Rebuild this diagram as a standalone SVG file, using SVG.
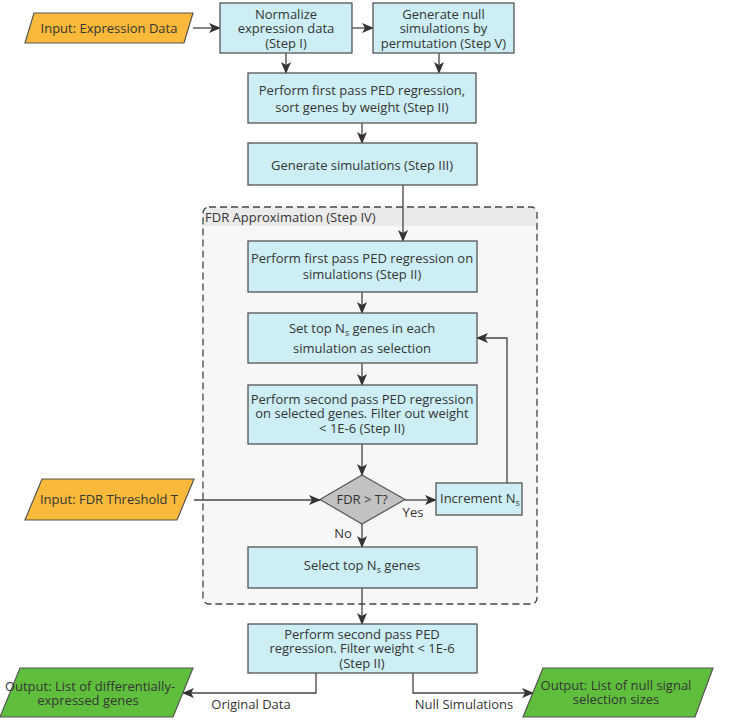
<svg xmlns="http://www.w3.org/2000/svg" width="744" height="724" viewBox="0 0 744 724">
<defs>
<marker id="arr" viewBox="0 0 12 10" refX="11" refY="5" markerWidth="12" markerHeight="10" markerUnits="userSpaceOnUse" orient="auto">
<path d="M0,0 L12,5 L0,10 L3,5 z" fill="#333"/>
</marker>
<style>
text{font-family:"Open Sans","DejaVu Sans",sans-serif;font-size:13px;fill:#353535;text-anchor:middle}
.box{fill:#cdeef4;stroke:#555;stroke-width:1.3}
.in{fill:#f9b93b;stroke:#555;stroke-width:1.2}
.out{fill:#5fbf3d;stroke:#555;stroke-width:1.2}
.dia{fill:#c2c2c2;stroke:#555;stroke-width:1.2}
.c{fill:none;stroke:#444;stroke-width:1.3;marker-end:url(#arr)}
.l{text-anchor:start}
.sub{font-size:9px}
</style>
</defs>
<rect width="744" height="724" fill="#fff"/>
<g id="group-fdr">
<rect x="203" y="207" width="334" height="397" rx="6" fill="#f7f7f7"/>
<path d="M203,226 V213 a6,6 0 0 1 6,-6 H531 a6,6 0 0 1 6,6 V226 Z" fill="#ebebeb"/>
<rect x="203" y="207" width="334" height="397" rx="6" fill="none" stroke="#444" stroke-width="1.3" stroke-dasharray="7,4"/>
<text class="l" x="205" y="222">FDR Approximation (Step IV)</text>
</g>
<g id="connectors">
<path class="c" d="M193,28 H220"/>
<path class="c" d="M352,28 H373"/>
<path class="c" d="M286,53 V73"/>
<path class="c" d="M439,53 V73"/>
<path class="c" d="M362,123 V143"/>
<path class="c" d="M403,185 V241"/>
<path class="c" d="M362,292 V313"/>
<path class="c" d="M362,363 V385"/>
<path class="c" d="M362,444 V475"/>
<path class="c" d="M194,500 H320"/>
<path class="c" d="M405,500 H436"/>
<path class="c" d="M507,483 V338 H477"/>
<path class="c" d="M362,524 V547"/>
<path class="c" d="M362,588 V624"/>
<path class="c" d="M316,673 V693 H183"/>
<path class="c" d="M413,673 V693 H533"/>
<text x="413" y="517">Yes</text>
<text x="343" y="538">No</text>
<text x="251" y="709">Original Data</text>
<text x="464" y="709">Null Simulations</text>
</g>
<g id="input-expression">
<polygon class="in" points="34,13 193,13 184,43 25,43"/>
<text x="109" y="32.5">Input: Expression Data</text>
</g>
<g id="normalize">
<rect class="box" x="220" y="3" width="132" height="50"/>
<text x="286" y="18.5">Normalize</text>
<text x="286" y="33">expression data</text>
<text x="286" y="47.5">(Step I)</text>
</g>
<g id="null-sim">
<rect class="box" x="373" y="3" width="141" height="50"/>
<text x="443.5" y="18.5">Generate null</text>
<text x="443.5" y="33">simulations by</text>
<text x="443.5" y="47.5">permutation (Step V)</text>
</g>
<g id="first-pass">
<rect class="box" x="248" y="73" width="228" height="50"/>
<text x="362" y="94.5">Perform first pass PED regression,</text>
<text x="362" y="111.5">sort genes by weight (Step II)</text>
</g>
<g id="gen-sim">
<rect class="box" x="248" y="143" width="229" height="42"/>
<text x="362" y="169.5">Generate simulations (Step III)</text>
</g>
<g id="first-pass-sim">
<rect class="box" x="248" y="241" width="229" height="51"/>
<text x="362" y="262.5">Perform first pass PED regression on</text>
<text x="362" y="278.5">simulations (Step II)</text>
</g>
<g id="set-top">
<rect class="box" x="248" y="313" width="229" height="50"/>
<text x="362" y="332.5">Set top N<tspan class="sub" dy="3">s</tspan><tspan dy="-3"> genes in each</tspan></text>
<text x="362" y="352.5">simulation as selection</text>
</g>
<g id="second-pass-sel">
<rect class="box" x="248" y="385" width="229" height="59"/>
<text x="362" y="403.5">Perform second pass PED regression</text>
<text x="362" y="418">on selected genes. Filter out weight</text>
<text x="362" y="432.5">&lt; 1E-6 (Step II)</text>
</g>
<g id="decision">
<polygon class="dia" points="362,475 405,499.5 362,524 320,499.5"/>
<text x="362" y="503.5">FDR &gt; T?</text>
</g>
<g id="input-threshold">
<polygon class="in" points="42,479 194,479 177,520 25,520"/>
<text x="109" y="504">Input: FDR Threshold T</text>
</g>
<g id="increment">
<rect class="box" x="436" y="483" width="86" height="32"/>
<text class="l" x="440" y="502.5">Increment N<tspan class="sub" dy="3">s</tspan></text>
</g>
<g id="select-top">
<rect class="box" x="248" y="547" width="229" height="41"/>
<text x="362" y="569.5">Select top N<tspan class="sub" dy="3">s</tspan><tspan dy="-3"> genes</tspan></text>
</g>
<g id="second-pass-final">
<rect class="box" x="248" y="624" width="229" height="49"/>
<text x="362" y="638.5">Perform second pass PED</text>
<text x="362" y="653">regression. Filter weight &lt; 1E-6</text>
<text x="362" y="667.5">(Step II)</text>
</g>
<g id="output-genes">
<polygon class="out" points="20,668 193,668 173,717 0,717"/>
<text x="90" y="690.5">Output: List of differentially-</text>
<text x="88" y="704.5">expressed genes</text>
</g>
<g id="output-null">
<polygon class="out" points="543,668 713,668 695,717 523,717"/>
<text x="616" y="689.5">Output: List of null signal</text>
<text x="616" y="703.5">selection sizes</text>
</g>
</svg>
